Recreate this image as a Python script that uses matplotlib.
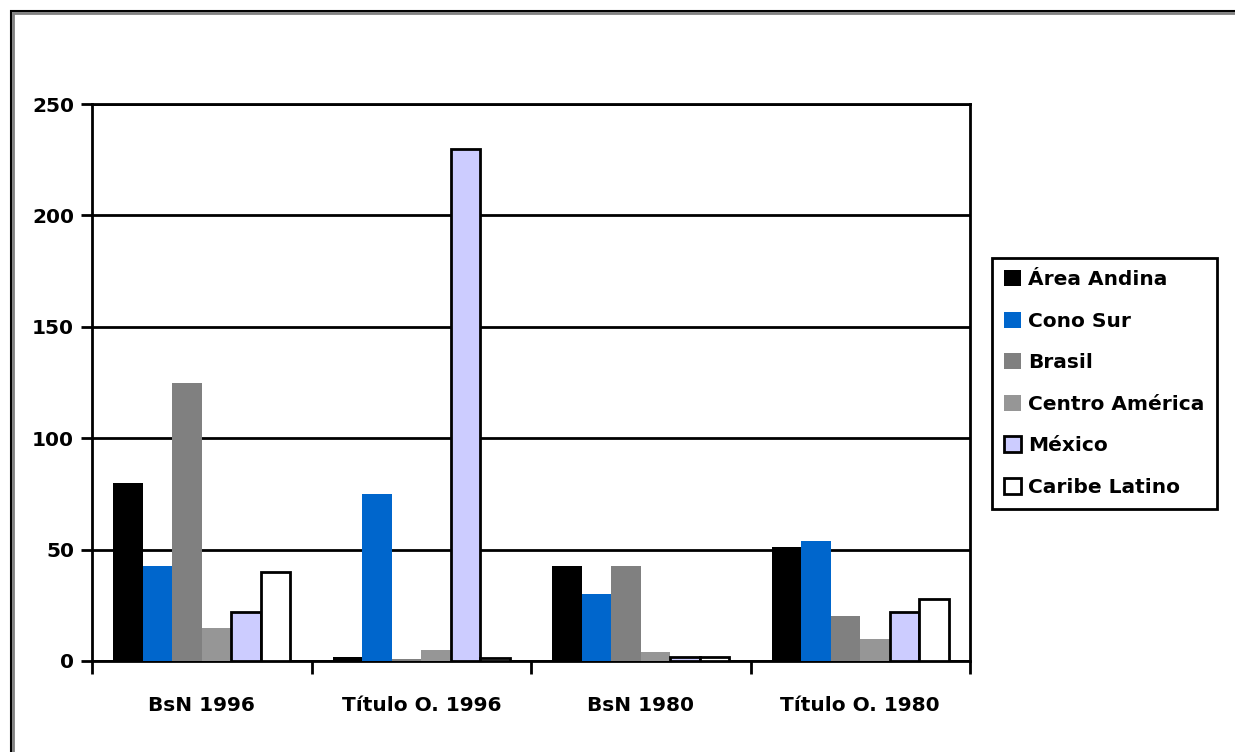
import matplotlib.pyplot as plt
import numpy as np
from matplotlib.patches import Rectangle

# -----------------------------
# Data
# -----------------------------

categories = ["BsN 1996", "Título O. 1996", "BsN 1980", "Título O. 1980"]
series_names = ["Área Andina", "Cono Sur", "Brasil", "Centro América", "México", "Caribe Latino"]

area_andina = [80, 2, 42.5, 51]
cono_sur = [42.5, 75, 30, 54]
brasil = [125, 0.8, 42.5, 20]
centro_america = [15, 5, 4, 10]
mexico = [22, 230, 2, 22]
caribe_latino = [40, 1.5, 2, 28]

y_ticks = [0, 50, 100, 150, 200, 250]

# -----------------------------
# Style
# -----------------------------

colors = ["#000000", "#0066CC", "#808080", "#969696", "#CCCCFF", "#FFFFFF"]
edged = [False, False, False, False, True, True]
FONT_SIZE = 14.5

plt.rcParams["font.family"] = ["DejaVu Sans"]
plt.rcParams["font.weight"] = "bold"

fig = plt.figure(figsize=(12.35, 7.52), dpi=100)
ax = fig.add_axes([92 / 1235, 1 - 661 / 752, (970 - 92) / 1235, (661 - 104) / 752])

all_series = [area_andina, cono_sur, brasil, centro_america, mexico, caribe_latino]
x = np.arange(len(categories))
n = len(all_series)
bar_w = 0.806 / n

for i, (name, values) in enumerate(zip(series_names, all_series)):
    offset = (i - (n - 1) / 2) * bar_w
    ax.bar(
        x + offset, values, width=bar_w, color=colors[i], label=name,
        edgecolor="black" if edged[i] else colors[i],
        linewidth=2 if edged[i] else 0, zorder=3,
    )

ax.set_xlim(-0.5, len(categories) - 0.5)
ax.set_ylim(0, 250)
ax.set_yticks(y_ticks)
ax.set_yticklabels([str(t) for t in y_ticks], fontsize=FONT_SIZE, fontweight="bold")
ax.yaxis.grid(True, color="black", linewidth=2, zorder=0)
ax.set_axisbelow(True)

ax.set_xticks(x)
ax.set_xticklabels(categories, fontsize=FONT_SIZE, fontweight="bold")
ax.tick_params(axis="x", length=0, pad=25)
ax.set_xticks(np.arange(len(categories) + 1) - 0.5, minor=True)
ax.tick_params(axis="x", which="minor", length=9, width=2, direction="out")
ax.tick_params(axis="y", length=8, width=2, direction="out", pad=5)

for side in ["left", "right", "top", "bottom"]:
    ax.spines[side].set_linewidth(2)
    ax.spines[side].set_color("black")

leg = ax.legend(
    loc="upper left", bbox_to_anchor=(992 / 1235, 1 - 258 / 752),
    bbox_transform=fig.transFigure, frameon=True, fancybox=False, framealpha=1,
    edgecolor="black", fontsize=FONT_SIZE, handlelength=0.85, handleheight=0.85,
    handletextpad=0.35, labelspacing=1.12, borderpad=0.6, borderaxespad=0,
)
leg.get_frame().set_linewidth(2)
for handle, has_edge in zip(leg.legend_handles, edged):
    handle.set_edgecolor("black")
    handle.set_linewidth(2 if has_edge else 0)

# outer chart border with shadow
fig.patches.append(Rectangle((13 / 1235, -0.05), 1.1, 1 - 13 / 752 + 0.05,
                             transform=fig.transFigure, fill=False,
                             edgecolor="#808080", linewidth=2, zorder=0))
fig.patches.append(Rectangle((11 / 1235, -0.05), 1.1, 1 - 11 / 752 + 0.05,
                             transform=fig.transFigure, fill=False,
                             edgecolor="black", linewidth=1.5, zorder=0))

fig.savefig("out.png", dpi=100)
